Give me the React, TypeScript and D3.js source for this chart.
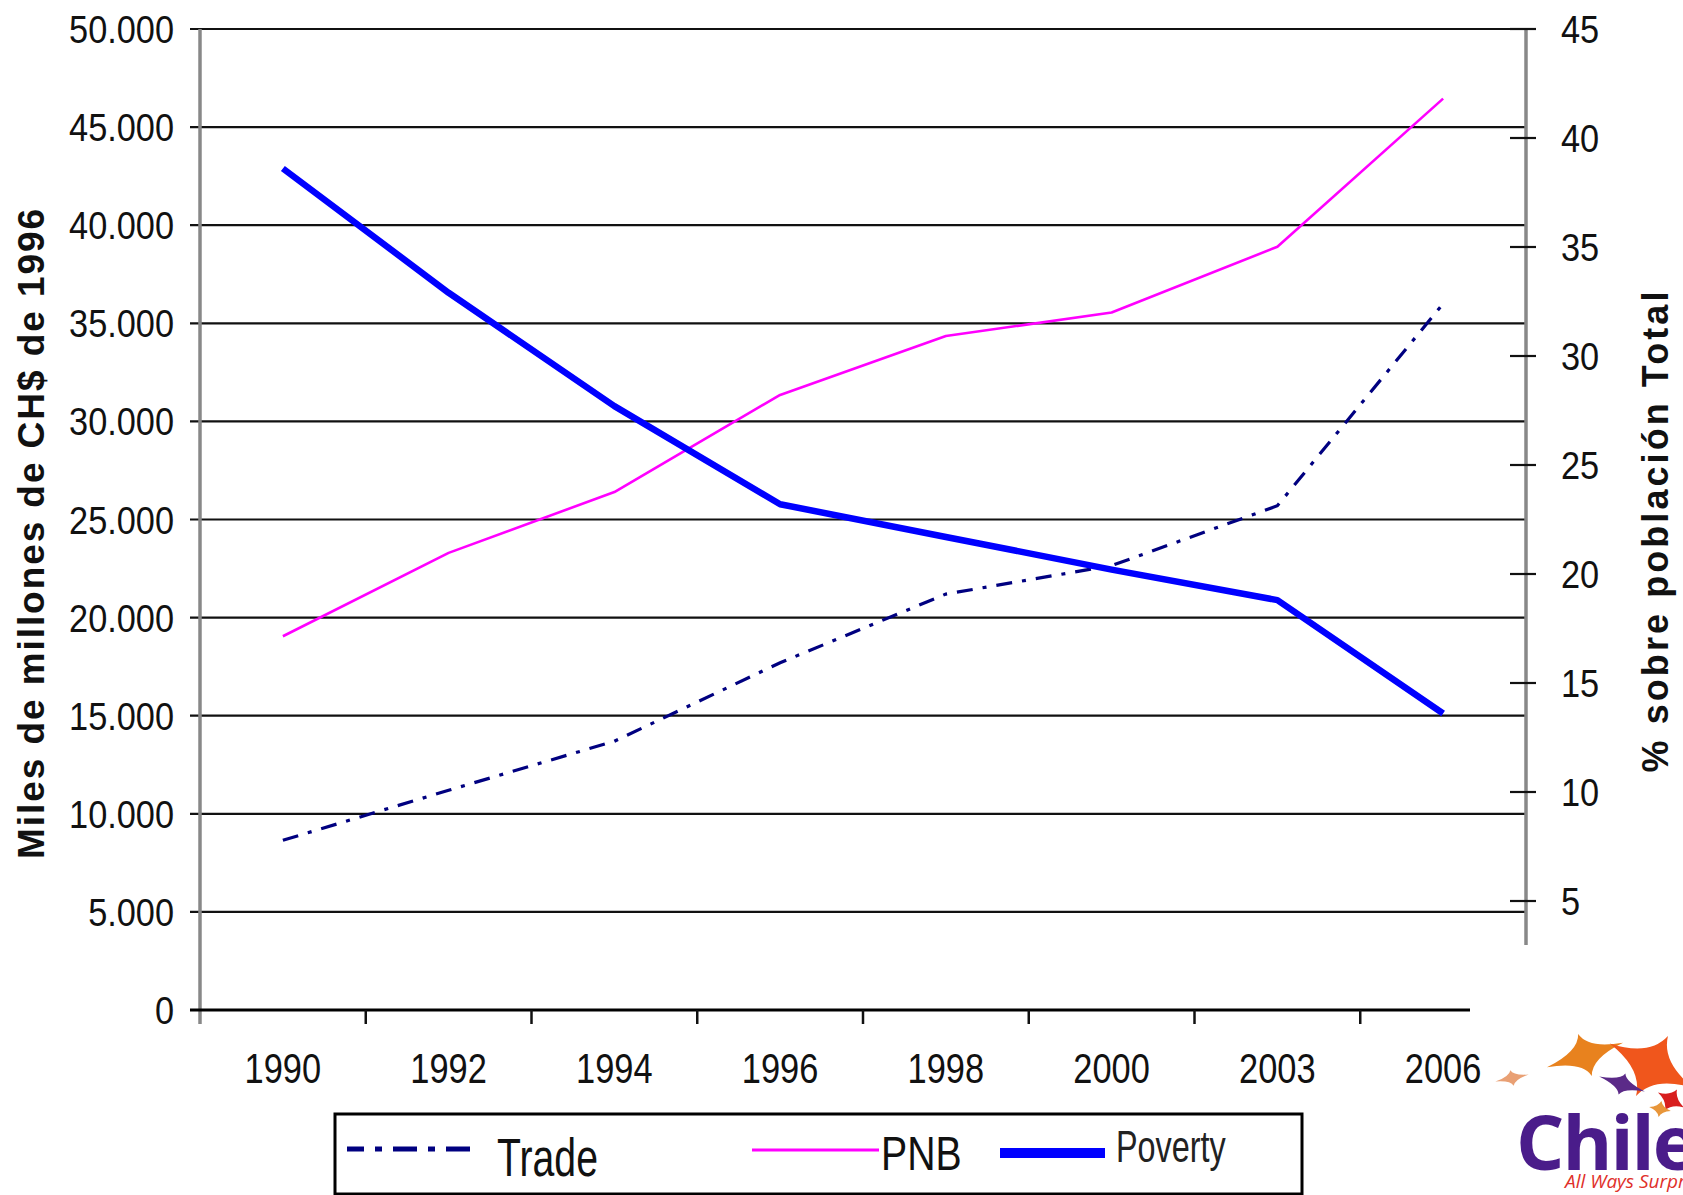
import React from 'react';
import * as d3 from 'd3';

// Categories and series
const years: string[] = ['1990', '1992', '1994', '1996', '1998', '2000', '2003', '2006'];
const trade: number[] = [8650, 11200, 13700, 17700, 21200, 22650, 25700, 36000];
const pnb: number[] = [19050, 23300, 26400, 31350, 34350, 35550, 38900, 46450];
const poverty: number[] = [38.6, 32.9, 27.7, 23.2, 21.7, 20.2, 18.8, 13.6];

// Axis ticks
const leftTicks: number[] = [0, 5000, 10000, 15000, 20000, 25000, 30000, 35000, 40000, 45000, 50000];
const rightTicks: number[] = [5, 10, 15, 20, 25, 30, 35, 40, 45];

const leftTitle = 'Miles de millones de CH$ de 1996';
const rightTitle = '% sobre población Total';
const legendLabels = ['Trade', 'PNB', 'Poverty'];

const FONT = '"Liberation Sans", Arial, sans-serif';

const esLocale = d3.formatLocale({ decimal: ',', thousands: '.', grouping: [3], currency: ['$', ''] });
const fmtLeft = esLocale.format(',');

// 4-point sparkle used by the logo
function sparkle(rx: number, ry: number, k: number): string {
  const p = d3.path();
  p.moveTo(rx, 0);
  p.quadraticCurveTo(k, k, 0, ry);
  p.quadraticCurveTo(-k, k, -rx, 0);
  p.quadraticCurveTo(-k, -k, 0, -ry);
  p.quadraticCurveTo(k, -k, rx, 0);
  p.closePath();
  return p.toString();
}

const stars = [
  { cx: 1512, cy: 1078, rx: 17, ry: 8, k: 2, rot: -12, fill: '#E9A074' },
  { cx: 1585, cy: 1055, rx: 40, ry: 22, k: 5, rot: -18, fill: '#E8821E' },
  { cx: 1652, cy: 1066, rx: 48, ry: 34, k: 7, rot: 28, fill: '#F0561C' },
  { cx: 1622, cy: 1084, rx: 24, ry: 11, k: 3, rot: 18, fill: '#5B2A88' },
  { cx: 1671, cy: 1100, rx: 15, ry: 12, k: 3, rot: 30, fill: '#D81E1E' },
  { cx: 1660, cy: 1109, rx: 11, ry: 8, k: 2, rot: 10, fill: '#E8963A' },
];

export default function App() {
  const W = 1683;
  const H = 1195;
  const left = 200;
  const right = 1526;
  const base = 1010;
  const top = 29;

  const x = d3.scaleBand<string>().domain(years).range([left, right]).padding(0);
  const cx = (yr: string) => (x(yr) as number) + x.bandwidth() / 2;
  const yL = d3.scaleLinear().domain([0, 50000]).range([base, top]);
  const yR = d3.scaleLinear().domain([0, 45]).range([base, top]);

  const lineL = d3.line<number>().x((_, i) => cx(years[i])).y((d) => yL(d));
  const lineR = d3.line<number>().x((_, i) => cx(years[i])).y((d) => yR(d));

  const boundaries = years.slice(1).map((yr) => x(yr) as number);

  return (
    <svg
      width={W}
      height={H}
      viewBox={`0 0 ${W} ${H}`}
      style={{ position: 'absolute', left: 0, top: 0, display: 'block', background: '#fff' }}
      fontFamily={FONT}
    >
      <rect x={0} y={0} width={W} height={H} fill="#fff" />

      {/* horizontal gridlines */}
      {leftTicks.filter((t) => t > 0).map((t) => (
        <line key={`g${t}`} x1={190} x2={t === 50000 ? 1536 : right} y1={yL(t)} y2={yL(t)} stroke="#111" strokeWidth={2.2} />
      ))}

      {/* left axis */}
      <line x1={left} x2={left} y1={top} y2={base + 14} stroke="#888" strokeWidth={3.5} />
      {leftTicks.map((t) => (
        <text
          key={`lt${t}`}
          transform={`translate(174,${yL(t)}) scale(0.88,1)`}
          textAnchor="end"
          dy="0.36em"
          fontSize={39}
          fill="#111"
        >
          {fmtLeft(t)}
        </text>
      ))}

      {/* right axis */}
      <line x1={right} x2={right} y1={top} y2={945} stroke="#888" strokeWidth={3.5} />
      {rightTicks.map((t) => (
        <g key={`rt${t}`}>
          <line x1={1510} x2={1536} y1={yR(t)} y2={yR(t)} stroke="#111" strokeWidth={2.2} />
          <text
            transform={`translate(1561,${yR(t)}) scale(0.88,1)`}
            textAnchor="start"
            dy="0.36em"
            fontSize={39}
            fill="#111"
          >
            {t}
          </text>
        </g>
      ))}

      {/* category axis */}
      <line x1={190} x2={1470} y1={base} y2={base} stroke="#000" strokeWidth={3} />
      {boundaries.map((b, i) => (
        <line key={`xt${i}`} x1={b} x2={b} y1={base} y2={base + 14} stroke="#111" strokeWidth={2.5} />
      ))}
      {years.map((yr) => (
        <text
          key={`xl${yr}`}
          transform={`translate(${cx(yr)},1083) scale(0.8,1)`}
          textAnchor="middle"
          fontSize={43}
          fill="#111"
        >
          {yr}
        </text>
      ))}

      {/* axis titles */}
      <text
        transform="translate(44,534) rotate(-90)"
        textAnchor="middle"
        fontSize={37}
        fontWeight="bold"
        fill="#111"
        textLength={650}
        lengthAdjust="spacing"
      >
        {leftTitle}
      </text>
      <text
        transform="translate(1668,532) rotate(-90)"
        textAnchor="middle"
        fontSize={36}
        fontWeight="bold"
        fill="#111"
        textLength={481}
        lengthAdjust="spacing"
      >
        {rightTitle}
      </text>

      {/* series */}
      <path d={lineL(pnb) as string} fill="none" stroke="#FF00FF" strokeWidth={2.6} strokeLinejoin="round" />
      <path
        d={lineL(trade) as string}
        fill="none"
        stroke="#000080"
        strokeWidth={3.2}
        strokeDasharray="16,10,4,10"
      />
      <path d={lineR(poverty) as string} fill="none" stroke="#0000FF" strokeWidth={6.5} strokeLinejoin="round" />

      {/* legend */}
      <rect x={335} y={1114} width={967} height={80} fill="#fff" stroke="#000" strokeWidth={3} />
      <line x1={347} x2={477} y1={1149} y2={1149} stroke="#000080" strokeWidth={5} strokeDasharray="24,11,7,11" strokeDashoffset={7} />
      <text transform="translate(497,1176) scale(0.74,1)" fontSize={53} fill="#111">{legendLabels[0]}</text>
      <line x1={752} x2={879} y1={1150} y2={1150} stroke="#FF00FF" strokeWidth={3} />
      <text transform="translate(881,1170) scale(0.8,1)" fontSize={49} fill="#111">{legendLabels[1]}</text>
      <line x1={1000} x2={1105} y1={1153} y2={1153} stroke="#0000FF" strokeWidth={10} />
      <text transform="translate(1116,1162) scale(0.72,1)" fontSize={45} fill="#222">{legendLabels[2]}</text>

      {/* logo */}
      <g>
        {stars.map((s, i) => (
          <path key={`s${i}`} d={sparkle(s.rx, s.ry, s.k)} transform={`translate(${s.cx},${s.cy}) rotate(${s.rot})`} fill={s.fill} />
        ))}
        <text x={1516} y={1170} fontSize={76} fontWeight="bold" fill="#4A1C8A" fontFamily='"Open Sans", "Liberation Sans", sans-serif' letterSpacing={-2}>
          Chile
        </text>
        <text x={1565} y={1188} fontSize={19} fontStyle="italic" fill="#E0302A" fontFamily='"Open Sans", "Liberation Sans", sans-serif'>
          All Ways Surprising
        </text>
      </g>
    </svg>
  );
}
